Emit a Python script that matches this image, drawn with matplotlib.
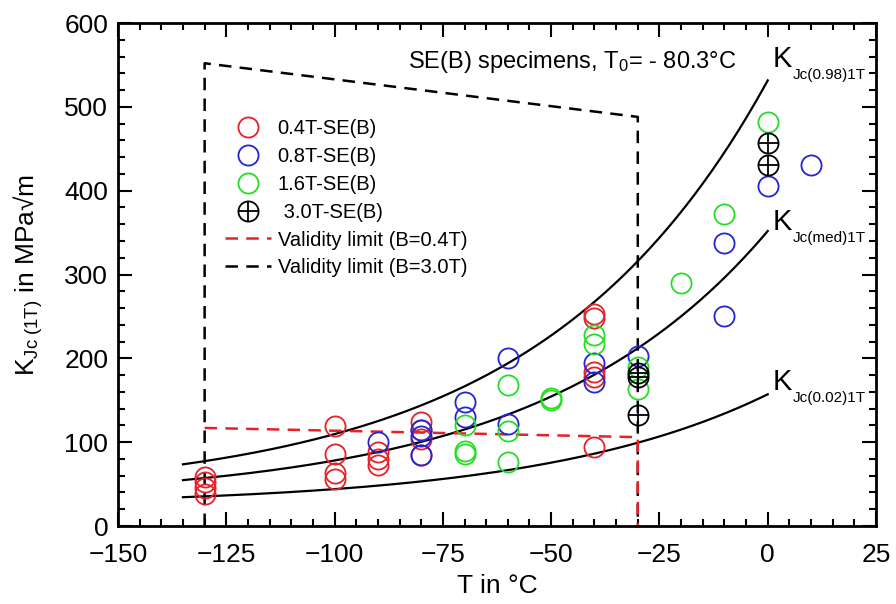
import numpy as np
import matplotlib
matplotlib.use("Agg")
import matplotlib.pyplot as plt
from matplotlib.legend_handler import HandlerTuple
from matplotlib.ticker import MultipleLocator

plt.rcParams['font.family'] = ['Liberation Sans', 'DejaVu Sans']
plt.rcParams['mathtext.fontset'] = 'custom'
plt.rcParams['mathtext.rm'] = 'Liberation Sans'
plt.rcParams['mathtext.it'] = 'Liberation Sans'

# Reference temperature of the master curve
T0 = -80.3

# Fracture toughness data (T in degC, K in MPa sqrt(m))
t_04 = [-130, -130, -130, -130, -100, -100, -100, -100, -90, -90, -90,
        -80, -80, -80, -80, -40, -40, -40, -40, -40]
k_04 = [58, 52, 45, 38, 119, 86, 63, 56, 88, 80, 73,
        124, 115, 104, 85, 253, 248, 184, 178, 94]

t_08 = [-90, -80, -80, -80, -70, -70, -60, -60, -40, -40, -30, -10, -10, 0, 10]
k_08 = [100, 115, 107, 85, 148, 130, 200, 122, 195, 172, 203, 338, 250, 406, 431]

t_16 = [-70, -70, -70, -60, -60, -60, -50, -50, -40, -40, -30, -30, -20, -10, 0]
k_16 = [120, 90, 86, 168, 113, 76, 153, 150, 228, 217, 190, 163, 290, 372, 482]

t_30 = [-30, -30, -30, 0, 0]
k_30 = [183, 178, 133, 457, 431]

# Validity limits
lim04_t = [-130, -30, -30]
lim04_k = [117, 106, 0]
lim30_t = [-130, -130, -30, -30]
lim30_k = [0, 552, 488, 0]

# Master curve (ASTM E1921) for 1T specimens
t_mc = np.linspace(-135, 0, 200)
k_med = 30 + 70 * np.exp(0.019 * (t_mc - T0))


def k_prob(p):
    return 20 + (k_med - 20) * (np.log(1 / (1 - p)) / np.log(2)) ** 0.25


fig = plt.figure(figsize=(8.96, 6.04), dpi=100)
ax = fig.add_axes([0.1317, 0.1291, 0.846, 0.8328])

ax.plot(t_mc, k_prob(0.98), color='black', lw=1.6)
ax.plot(t_mc, k_med, color='black', lw=1.6)
ax.plot(t_mc, k_prob(0.02), color='black', lw=1.6)

h_l30, = ax.plot(lim30_t, lim30_k, color='black', lw=1.8, dashes=(5, 3.3))
h_l04, = ax.plot(lim04_t, lim04_k, color='#e8202a', lw=1.8, dashes=(5, 3.3))

ms = 14.5
h04, = ax.plot(t_04, k_04, 'o', ms=ms, mfc='none', mec='#e52228', mew=1.3, ls='none')
h08, = ax.plot(t_08, k_08, 'o', ms=ms, mfc='none', mec='#2424d4', mew=1.3, ls='none')
h16, = ax.plot(t_16, k_16, 'o', ms=ms, mfc='none', mec='#26dd26', mew=1.3, ls='none')
h30a, = ax.plot(t_30, k_30, 'o', ms=ms, mfc='none', mec='black', mew=1.3, ls='none')
h30b, = ax.plot(t_30, k_30, '+', ms=ms, mec='black', mew=1.3, ls='none')

ax.legend([h04, h08, h16, (h30a, h30b), h_l04, h_l30],
          ['0.4T-SE(B)', '0.8T-SE(B)', '1.6T-SE(B)', ' 3.0T-SE(B)',
           'Validity limit (B=0.4T)', 'Validity limit (B=3.0T)'],
          handler_map={tuple: HandlerTuple(ndivide=1)},
          loc='upper left', bbox_to_anchor=(0.131, 0.825), frameon=False,
          borderaxespad=0, handlelength=2.25, handletextpad=0.35,
          labelspacing=0.44, prop={'family': 'Liberation Sans', 'size': 14.5})

ax.text(-83, 553, r'SE(B) specimens, T$_{\rm 0}$= - 80.3°C', fontsize=17,
        ha='left', va='center')

# curve labels: big K with a low-set subscript
curve_labels = [('Jc(0.98)1T', 557), ('Jc(med)1T', 363), ('Jc(0.02)1T', 172)]
for sub, ky in curve_labels:
    kt = ax.text(1.2, ky, 'K', fontsize=21, ha='left', va='center')
    ax.annotate(sub, xy=(1.0, 0.17), xycoords=kt, xytext=(0.5, 0),
                textcoords='offset points', fontsize=11, ha='left', va='top')

ax.set_xlim(-150, 25)
ax.set_ylim(0, 600)
ax.xaxis.set_major_locator(MultipleLocator(25))
ax.xaxis.set_minor_locator(MultipleLocator(5))
ax.yaxis.set_major_locator(MultipleLocator(100))
ax.yaxis.set_minor_locator(MultipleLocator(20))
ax.tick_params(which='both', direction='in', top=True, right=True, width=1.5,
               labelsize=19)
ax.tick_params(which='major', length=10)
ax.tick_params(axis='x', which='major', pad=12)
ax.tick_params(axis='y', which='major', pad=7)
ax.tick_params(which='minor', length=5)
for s in ax.spines.values():
    s.set_linewidth(2)

ax.set_xlabel('T in °C', fontsize=19, labelpad=5)
ax.set_ylabel(r'K$_{\rm Jc\ (1T)}$ in MPa√m', fontsize=19, labelpad=14)

fig.savefig('out.png', dpi=100)
